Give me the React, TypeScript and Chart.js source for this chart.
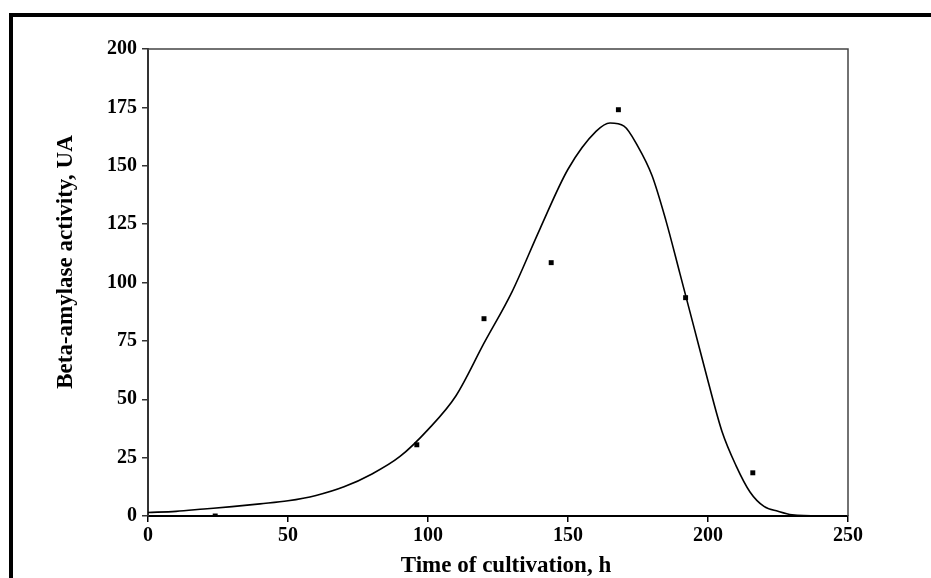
import React, { useEffect, useRef } from "react";
import { Chart, registerables } from "chart.js";

Chart.register(...registerables);

const sampleHours = [24, 96, 120, 144, 168, 192, 216];
const sampleActivity = [0, 30.5, 84.5, 108.5, 174, 93.5, 18.5];

const fitHours = [0, 10, 20, 30, 40, 50, 60, 70, 80, 90, 100, 110, 120, 130, 140, 150, 160, 165, 170, 175, 180, 185, 190, 195, 200, 205, 210, 215, 220, 225, 230, 240, 250];
const fitActivity = [1.5, 2, 3, 4, 5.2, 6.5, 8.8, 12.5, 18, 25.5, 37, 51.5, 74, 96, 123, 148.5, 164.7, 168.3, 167, 158.2, 145.8, 126.4, 103.7, 80.8, 57.8, 36.2, 21.6, 10.3, 4.1, 2, 0.5, 0, 0];

const xTicks = [0, 50, 100, 150, 200, 250];
const yTicks = [0, 25, 50, 75, 100, 125, 150, 175, 200];

const xTitle = "Time of cultivation, h";
const yTitle = "Beta-amylase activity, UA";

const FONT = '"Liberation Serif", "Times New Roman", serif';

export default function App() {
  const ref = useRef<HTMLCanvasElement | null>(null);

  useEffect(() => {
    if (!ref.current) return;
    const framePlugin = {
      id: "frame",
      beforeDraw(chart: any) {
        const ctx = chart.ctx;
        ctx.save();
        ctx.fillStyle = "#ffffff";
        ctx.fillRect(0, 0, chart.width, chart.height);
        ctx.restore();
      },
      afterDraw(chart: any) {
        const ctx = chart.ctx;
        const a = chart.chartArea;
        ctx.save();
        ctx.fillStyle = "#000";
        ctx.fillRect(9, 13, chart.width - 9, 4);
        ctx.fillRect(9, 13, 4, chart.height - 13);
        ctx.strokeStyle = "#444";
        ctx.lineWidth = 1.5;
        ctx.beginPath();
        ctx.moveTo(a.left, a.top);
        ctx.lineTo(a.right, a.top);
        ctx.lineTo(a.right, a.bottom);
        ctx.stroke();
        ctx.fillStyle = "#000";
        ctx.font = "bold 23px " + FONT;
        ctx.textAlign = "center";
        ctx.textBaseline = "middle";
        ctx.fillText(xTitle, (a.left + a.right) / 2 + 8, 566);
        ctx.translate(66, 262);
        ctx.rotate(-Math.PI / 2);
        ctx.fillText(yTitle, 0, 0);
        ctx.restore();
      },
    };

    const chart = new Chart(ref.current, {
      type: "scatter",
      data: {
        datasets: [
          {
            type: "line",
            data: fitHours.map((h, i) => ({ x: h, y: fitActivity[i] })),
            borderColor: "#000",
            borderWidth: 1.6,
            pointRadius: 0,
            cubicInterpolationMode: "monotone",
            fill: false,
          } as any,
          {
            type: "scatter",
            data: sampleHours.map((h, i) => ({ x: h, y: sampleActivity[i] })),
            backgroundColor: "#000",
            borderColor: "#000",
            pointStyle: "rect",
            pointRadius: 3.5,
            borderWidth: 0,
          },
        ],
      },
      options: {
        animation: false,
        responsive: true,
        maintainAspectRatio: false,
        layout: { padding: { top: 49, right: 83, left: 0, bottom: 0 } },
        plugins: { legend: { display: false }, tooltip: { enabled: false } },
        scales: {
          x: {
            type: "linear",
            min: 0,
            max: 250,
            afterBuildTicks: (s: any) => {
              s.ticks = xTicks.map((v) => ({ value: v }));
            },
            afterFit: (s: any) => {
              s.height = 62;
            },
            border: { color: "#000", width: 2 },
            grid: { drawOnChartArea: false, drawTicks: true, tickLength: 6, color: "#000", lineWidth: 1.5 },
            ticks: { color: "#000", font: { family: FONT, size: 20, weight: "bold" }, padding: 2, maxRotation: 0 },
          },
          y: {
            type: "linear",
            min: 0,
            max: 200,
            afterBuildTicks: (s: any) => {
              s.ticks = yTicks.map((v) => ({ value: v }));
            },
            afterFit: (s: any) => {
              s.width = 148;
            },
            border: { color: "#333", width: 2 },
            grid: { drawOnChartArea: false, drawTicks: true, tickLength: 6, color: "#333", lineWidth: 1.5 },
            ticks: { color: "#000", font: { family: FONT, size: 20, weight: "bold" }, padding: 5 },
          },
        },
      },
      plugins: [framePlugin],
    });
    return () => chart.destroy();
  }, []);

  return (
    <div style={{ position: "absolute", left: 0, top: 0, width: 931, height: 578 }}>
      <canvas ref={ref} />
    </div>
  );
}
